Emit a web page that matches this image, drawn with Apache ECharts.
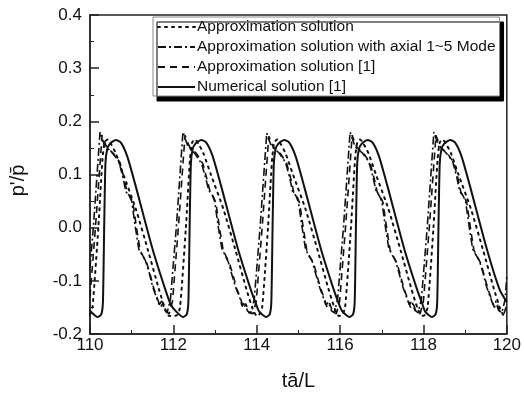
<!DOCTYPE html>
<html>
<head>
<meta charset="utf-8">
<script src="https://cdn.jsdelivr.net/npm/echarts@6/dist/echarts.min.js"></script>
<style>
  html, body { margin: 0; padding: 0; background: #fff; }
  #main { width: 524px; height: 396px; }
</style>
</head>
<body>
<div id="main"></div>
<script>
// 曲线数据 [t, p'/p]
const approxData = [
  [110.0, -0.163], [110.06, -0.15], [110.2, 0.0], [110.3, 0.13], [110.35, 0.16], [110.42, 0.166], [110.5, 0.158], [110.62, 0.14], [110.8, 0.1], [111.1, 0.035], [111.4, -0.045], [111.65, -0.115], [111.8, -0.152], [111.9, -0.166], [112.08, -0.165], [112.16, -0.15],
  [112.3, 0.0], [112.4, 0.13], [112.45, 0.16], [112.52, 0.166], [112.6, 0.158], [112.72, 0.14], [112.9, 0.1], [113.2, 0.035], [113.5, -0.045], [113.75, -0.115], [113.9, -0.152], [114.0, -0.166],
  [114.05, -0.165], [114.13, -0.15], [114.27, 0.0], [114.37, 0.13], [114.42, 0.16], [114.49, 0.166], [114.57, 0.158], [114.69, 0.14], [114.87, 0.1], [115.17, 0.035], [115.47, -0.045], [115.72, -0.115], [115.87, -0.152], [115.97, -0.166],
  [116.04, -0.165], [116.12, -0.15], [116.26, 0.0], [116.36, 0.13], [116.41, 0.16], [116.48, 0.166], [116.56, 0.158], [116.68, 0.14], [116.86, 0.1], [117.16, 0.035], [117.46, -0.045], [117.71, -0.115], [117.86, -0.152], [117.96, -0.166],
  [118.02, -0.165], [118.1, -0.15], [118.24, 0.0], [118.34, 0.13], [118.39, 0.16], [118.46, 0.166], [118.54, 0.158], [118.66, 0.14], [118.84, 0.1], [119.14, 0.035], [119.44, -0.045], [119.69, -0.115], [119.84, -0.152], [119.94, -0.166], [120.0, -0.163]
];

const axialData = [
  [110.0, -0.075], [110.08, 0.0], [110.24, 0.18], [110.29, 0.168], [110.36, 0.152], [110.45, 0.147], [110.54, 0.14], [110.69, 0.125], [110.79, 0.095], [110.86, 0.068], [110.94, 0.06], [111.0, 0.05], [111.09, 0.0], [111.17, -0.04], [111.24, -0.05], [111.33, -0.062], [111.42, -0.085], [111.5, -0.11], [111.59, -0.13], [111.66, -0.145], [111.72, -0.138], [111.79, -0.155],
  [111.85, -0.16], [111.93, -0.135], [112.07, 0.0], [112.23, 0.18], [112.28, 0.168], [112.35, 0.153], [112.44, 0.146], [112.53, 0.138], [112.68, 0.12], [112.78, 0.092], [112.85, 0.07], [112.93, 0.062], [112.99, 0.05], [113.08, 0.0], [113.16, -0.038], [113.23, -0.05], [113.32, -0.065], [113.41, -0.09], [113.49, -0.112], [113.58, -0.128], [113.65, -0.148], [113.71, -0.14], [113.78, -0.157],
  [113.86, -0.16], [113.94, -0.135], [114.08, 0.0], [114.24, 0.178], [114.29, 0.166], [114.36, 0.152], [114.45, 0.147], [114.54, 0.14], [114.69, 0.123], [114.79, 0.094], [114.86, 0.068], [114.94, 0.06], [115.0, 0.048], [115.09, 0.0], [115.17, -0.04], [115.24, -0.052], [115.33, -0.063], [115.42, -0.088], [115.5, -0.11], [115.59, -0.13], [115.66, -0.146], [115.72, -0.14], [115.79, -0.156],
  [115.86, -0.16], [115.94, -0.135], [116.08, 0.0], [116.24, 0.18], [116.29, 0.168], [116.36, 0.152], [116.45, 0.146], [116.54, 0.14], [116.69, 0.124], [116.79, 0.095], [116.86, 0.07], [116.94, 0.06], [117.0, 0.05], [117.09, 0.0], [117.17, -0.04], [117.24, -0.05], [117.33, -0.062], [117.42, -0.087], [117.5, -0.11], [117.59, -0.13], [117.66, -0.145], [117.72, -0.138], [117.79, -0.155],
  [117.87, -0.16], [117.95, -0.135], [118.09, 0.0], [118.25, 0.18], [118.3, 0.168], [118.37, 0.152], [118.46, 0.147], [118.55, 0.14], [118.7, 0.125], [118.8, 0.095], [118.87, 0.068], [118.95, 0.06], [119.01, 0.05], [119.1, 0.0], [119.18, -0.04], [119.25, -0.05], [119.34, -0.062], [119.43, -0.085], [119.51, -0.11], [119.6, -0.13], [119.67, -0.145], [119.73, -0.138], [119.8, -0.155],
  [119.88, -0.16], [119.96, -0.135], [120.0, -0.09]
];

const approxRefData = [
  [110.0, -0.13], [110.13, 0.0], [110.29, 0.174], [110.34, 0.163], [110.41, 0.15], [110.49, 0.145], [110.58, 0.138], [110.72, 0.122], [110.82, 0.092], [110.89, 0.066], [110.97, 0.058], [111.03, 0.047], [111.12, -0.002], [111.2, -0.042], [111.27, -0.053], [111.36, -0.066], [111.45, -0.09], [111.53, -0.114], [111.62, -0.134], [111.69, -0.15], [111.75, -0.142], [111.82, -0.158],
  [111.9, -0.162], [111.98, -0.138], [112.12, 0.0], [112.28, 0.174], [112.33, 0.163], [112.4, 0.15], [112.48, 0.145], [112.57, 0.138], [112.71, 0.12], [112.81, 0.09], [112.88, 0.068], [112.96, 0.058], [113.02, 0.047], [113.11, -0.002], [113.19, -0.04], [113.26, -0.053], [113.35, -0.068], [113.44, -0.092], [113.52, -0.115], [113.61, -0.132], [113.68, -0.152], [113.74, -0.143], [113.81, -0.16],
  [113.91, -0.162], [113.99, -0.138], [114.13, 0.0], [114.29, 0.172], [114.34, 0.162], [114.41, 0.15], [114.49, 0.145], [114.58, 0.138], [114.72, 0.121], [114.82, 0.091], [114.89, 0.066], [114.97, 0.058], [115.03, 0.046], [115.12, -0.002], [115.2, -0.042], [115.27, -0.054], [115.36, -0.066], [115.45, -0.091], [115.53, -0.113], [115.62, -0.133], [115.69, -0.15], [115.75, -0.142], [115.82, -0.158],
  [115.91, -0.162], [115.99, -0.138], [116.13, 0.0], [116.29, 0.174], [116.34, 0.163], [116.41, 0.15], [116.49, 0.145], [116.58, 0.138], [116.72, 0.122], [116.82, 0.092], [116.89, 0.067], [116.97, 0.058], [117.03, 0.047], [117.12, -0.002], [117.2, -0.042], [117.27, -0.053], [117.36, -0.066], [117.45, -0.09], [117.53, -0.114], [117.62, -0.134], [117.69, -0.15], [117.75, -0.142], [117.82, -0.158],
  [117.92, -0.162], [118.0, -0.138], [118.14, 0.0], [118.3, 0.174], [118.35, 0.163], [118.42, 0.15], [118.5, 0.145], [118.59, 0.138], [118.73, 0.122], [118.83, 0.092], [118.9, 0.066], [118.98, 0.058], [119.04, 0.047], [119.13, -0.002], [119.21, -0.042], [119.28, -0.053], [119.37, -0.066], [119.46, -0.09], [119.54, -0.114], [119.63, -0.134], [119.7, -0.15], [119.76, -0.142], [119.83, -0.158],
  [119.93, -0.162], [120.0, -0.145]
];

const numericalData = [
  [110.0, -0.155], [110.02, -0.158], [110.18, -0.168], [110.27, -0.163], [110.31, -0.14], [110.34, 0.0], [110.37, 0.12], [110.41, 0.147], [110.48, 0.158], [110.62, 0.165], [110.74, 0.16], [110.89, 0.135], [111.09, 0.08], [111.5, -0.04], [111.81, -0.117], [111.94, -0.145],
  [112.07, -0.158], [112.23, -0.168], [112.32, -0.163], [112.36, -0.14], [112.39, 0.0], [112.42, 0.12], [112.46, 0.147], [112.53, 0.158], [112.67, 0.165], [112.79, 0.16], [112.94, 0.135], [113.14, 0.08], [113.55, -0.04], [113.86, -0.117], [113.99, -0.145],
  [114.06, -0.158], [114.22, -0.168], [114.31, -0.163], [114.35, -0.14], [114.38, 0.0], [114.41, 0.12], [114.45, 0.147], [114.52, 0.158], [114.66, 0.165], [114.78, 0.16], [114.93, 0.135], [115.13, 0.08], [115.54, -0.04], [115.85, -0.117], [115.98, -0.145],
  [116.06, -0.158], [116.22, -0.168], [116.31, -0.163], [116.35, -0.14], [116.38, 0.0], [116.41, 0.12], [116.45, 0.147], [116.52, 0.158], [116.66, 0.165], [116.78, 0.16], [116.93, 0.135], [117.13, 0.08], [117.54, -0.04], [117.85, -0.117], [117.98, -0.145],
  [118.04, -0.158], [118.2, -0.168], [118.29, -0.163], [118.33, -0.14], [118.36, 0.0], [118.39, 0.12], [118.43, 0.147], [118.5, 0.158], [118.64, 0.165], [118.76, 0.16], [118.91, 0.135], [119.11, 0.08], [119.52, -0.04], [119.83, -0.117], [120.0, -0.14]
];

const seriesNames = [
  'Approximation solution',
  'Approximation solution with axial 1~5 Mode',
  'Approximation solution [1]',
  'Numerical solution [1]'
];

const chart = echarts.init(document.getElementById('main'));

const fontFamily = 'Liberation Sans, Arial, sans-serif';
const axisText = { color: '#111', fontSize: 17, fontFamily: fontFamily };

const option = {
  animation: false,
  backgroundColor: '#fff',
  grid: {
    left: 89,
    right: 16,
    top: 15,
    bottom: 61,
    show: true,
    borderColor: '#222',
    borderWidth: 1.5
  },
  legend: {
    orient: 'vertical',
    left: 153,
    top: 17,
    data: seriesNames,
    itemWidth: 37,
    itemHeight: 14,
    itemGap: 4,
    padding: [2, 4, 1, 4],
    backgroundColor: '#fff',
    borderColor: '#888',
    borderWidth: 1,
    shadowColor: '#000',
    shadowBlur: 0,
    shadowOffsetX: 4,
    shadowOffsetY: 5,
    itemStyle: { opacity: 0 },   // 隐藏图例中的圆点
    textStyle: {
      color: '#111',
      fontSize: 15.5,
      fontFamily: fontFamily,
      padding: [0, 0, 0, -3]
    }
  },
  xAxis: {
    type: 'value',
    min: 110,
    max: 120,
    interval: 2,
    name: 't\u0101/L',
    nameLocation: 'middle',
    nameGap: 37,
    nameTextStyle: { color: '#111', fontSize: 20, fontFamily: fontFamily },
    axisLine: { show: true, onZero: false, lineStyle: { color: '#222', width: 1.5 } },
    axisTick: { show: true, inside: true, length: 9, lineStyle: { color: '#222', width: 1.5 } },
    minorTick: { show: true, splitNumber: 2, length: 4, lineStyle: { color: '#222', width: 1 } },
    splitLine: { show: false },
    axisLabel: Object.assign({ margin: 3 }, axisText)
  },
  yAxis: {
    type: 'value',
    min: -0.2,
    max: 0.4,
    interval: 0.1,
    name: "p'/p\u0304",
    nameLocation: 'middle',
    nameGap: 62,
    nameTextStyle: { color: '#111', fontSize: 20, fontFamily: fontFamily, padding: [0, 0, 0, -12] },
    axisLine: { show: true, onZero: false, lineStyle: { color: '#222', width: 1.5 } },
    axisTick: { show: true, inside: true, length: 9, lineStyle: { color: '#222', width: 1.5 } },
    minorTick: { show: true, splitNumber: 2, length: 4, lineStyle: { color: '#222', width: 1 } },
    splitLine: { show: false },
    axisLabel: Object.assign({
      margin: 8,
      formatter: function (v) { return v.toFixed(1); }
    }, axisText)
  },
  series: [
    {
      name: seriesNames[0],
      type: 'line',
      data: approxData,
      symbol: 'none',
      smooth: 0.2,
      itemStyle: { color: '#111' },
      lineStyle: { color: '#111', width: 2, type: [2, 5], cap: 'round' }
    },
    {
      name: seriesNames[1],
      type: 'line',
      data: axialData,
      symbol: 'none',
      itemStyle: { color: '#111' },
      lineStyle: { color: '#111', width: 1.6, type: [8, 3, 2, 3] }
    },
    {
      name: seriesNames[2],
      type: 'line',
      data: approxRefData,
      symbol: 'none',
      itemStyle: { color: '#111' },
      lineStyle: { color: '#111', width: 1.6, type: [7, 5] }
    },
    {
      name: seriesNames[3],
      type: 'line',
      data: numericalData,
      symbol: 'none',
      smooth: 0.2,
      itemStyle: { color: '#111' },
      lineStyle: { color: '#111', width: 2, type: 'solid' }
    }
  ]
};

chart.setOption(option);
</script>
</body>
</html>
